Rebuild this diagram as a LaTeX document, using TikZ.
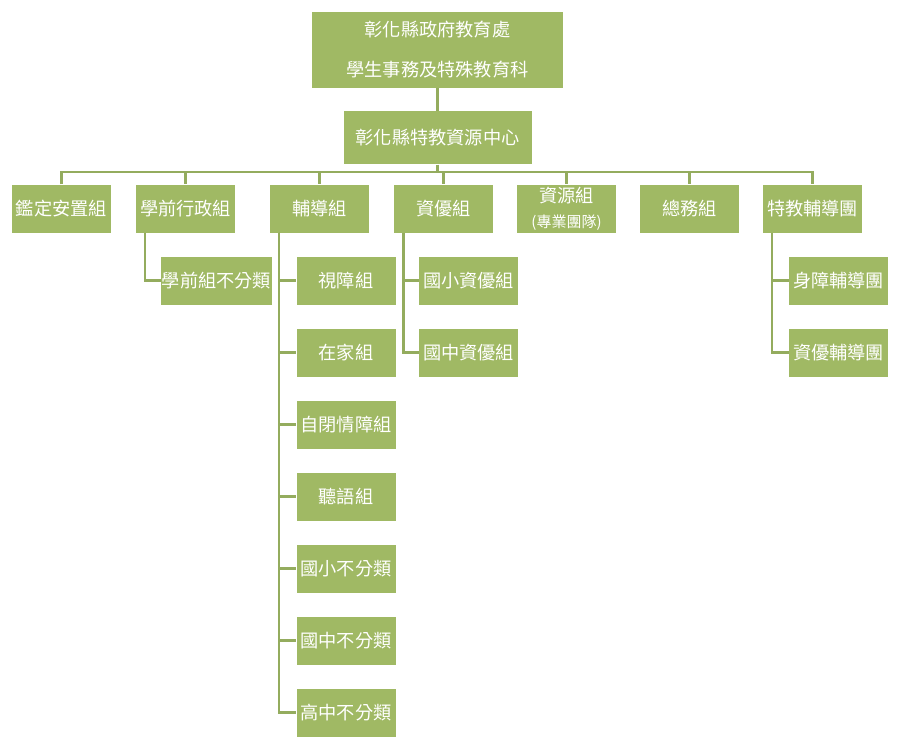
\documentclass[tikz,border=0pt]{standalone}
\usepackage{fontspec}
\setmainfont{Noto Sans CJK TC}
\usetikzlibrary{positioning}
\definecolor{boxgreen}{RGB}{160,185,100}
\definecolor{linegreen}{RGB}{148,172,94}

\begin{document}
\begin{tikzpicture}[x=1pt,y=-1pt,
  box/.style={fill=boxgreen,text=white,inner sep=0pt,minimum width=99pt,minimum height=48pt,
    font=\fontsize{18.2}{21}\selectfont,align=center},
  link/.style={linegreen,line width=2.6pt}]
  \useasboundingbox (0,0) rectangle (901,746);
  % head office and centre
  \node[box,minimum width=251pt,minimum height=76pt,font=\fontsize{18.2}{40}\selectfont] (office) at (437.5,50) {彰化縣政府教育處\\學生事務及特殊教育科};
  \node[box,minimum width=188pt,minimum height=53pt] (centre) at (437.5,138) {彰化縣特教資源中心};
  \coordinate (bus) at (437.5,172);
  % sections
  \node[box] (assess) at (61.5,208.5) {鑑定安置組};
  \node[box] (presch) at (185.5,208.5) {學前行政組};
  \node[box] (guide) at (319.5,208.5) {輔導組};
  \node[box] (gifted) at (443.5,208.5) {資優組};
  \node[box,font=\fontsize{18.2}{25}\selectfont] (resour) at (566.5,208.5) {資源組\\{\fontsize{15}{17}\selectfont(專業團隊)}};
  \node[box] (general) at (689.5,208.5) {總務組};
  \node[box] (team) at (812.5,208.5) {特教輔導團};
  % preschool
  \node[box,minimum width=111pt] (pre1) at (216.5,280.5) {學前組不分類};
  % guidance groups
  \node[box] (gd1) at (346,280.5) {視障組};
  \node[box] (gd2) at (346,352.5) {在家組};
  \node[box] (gd3) at (346,424.5) {自閉情障組};
  \node[box] (gd4) at (346,496.5) {聽語組};
  \node[box] (gd5) at (346,568.5) {國小不分類};
  \node[box] (gd6) at (346,640.5) {國中不分類};
  \node[box] (gd7) at (346,712.5) {高中不分類};
  % gifted groups
  \node[box] (gf1) at (468.5,280.5) {國小資優組};
  \node[box] (gf2) at (468.5,352.5) {國中資優組};
  % counselling teams
  \node[box] (tm1) at (838.5,280.5) {身障輔導團};
  \node[box] (tm2) at (838.5,352.5) {資優輔導團};
  % connectors
  \draw[link] (office.south) -- (centre.north);
  \draw[link] (centre.south) -- (bus);
  \draw[link] (assess.north) |- (team.north |- bus) -- (team.north);
  \foreach \n in {presch,guide,gifted,resour,general}
    \draw[link] (\n.north |- bus) -- (\n.north);
  \draw[link] ([xshift=9pt]presch.south west) |- (pre1.west);
  \foreach \i in {1,...,7}
    \draw[link] ([xshift=9pt]guide.south west) |- (gd\i.west);
  \foreach \i in {1,2}
    \draw[link] ([xshift=9.5pt]gifted.south west) |- (gf\i.west);
  \foreach \i in {1,2}
    \draw[link] ([xshift=9pt]team.south west) |- (tm\i.west);
\end{tikzpicture}
\end{document}
